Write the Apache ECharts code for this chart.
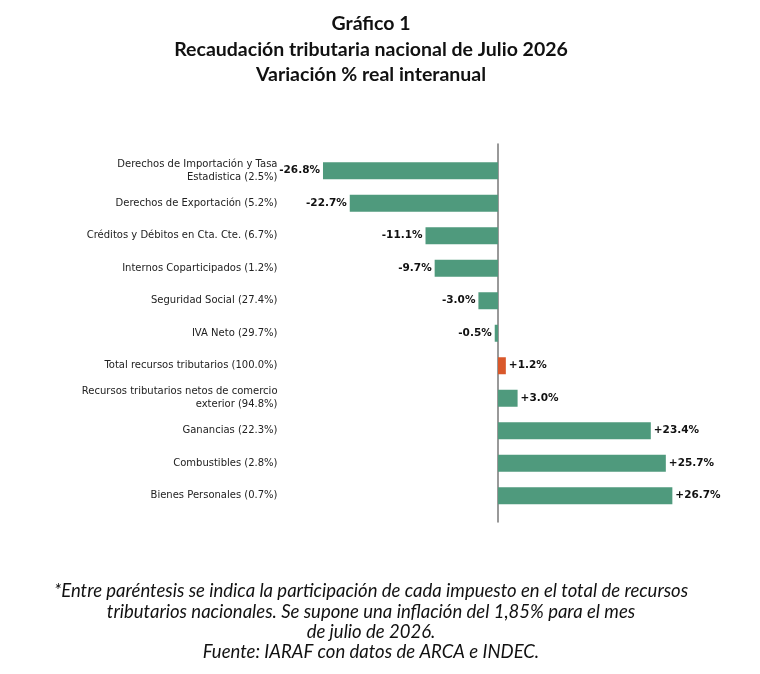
<!DOCTYPE html>
<html>
<head>
<meta charset="utf-8">
<script src="https://cdn.jsdelivr.net/npm/echarts@6/dist/echarts.min.js"></script>
<style>
  html, body { margin: 0; padding: 0; background: #fff; }
  #chart { width: 760px; height: 674px; }
</style>
</head>
<body>
<div id="chart"></div>
<script>
// categories top to bottom, with their share of total tax revenue
const categories = [
    'Derechos de Importación y Tasa\nEstadistica (2.5%)',
    'Derechos de Exportación (5.2%)',
    'Créditos y Débitos en Cta. Cte. (6.7%)',
    'Internos Coparticipados (1.2%)',
    'Seguridad Social (27.4%)',
    'IVA Neto (29.7%)',
    'Total recursos tributarios (100.0%)',
    'Recursos tributarios netos de comercio\nexterior (94.8%)',
    'Ganancias (22.3%)',
    'Combustibles (2.8%)',
    'Bienes Personales (0.7%)'
];
// real year-on-year variation, %
const variation = [-26.8, -22.7, -11.1, -9.7, -3.0, -0.5, 1.2, 3.0, 23.4, 25.7, 26.7];
const highlight = 'Total recursos tributarios (100.0%)';

const titleLines = [
    'Gráfico 1',
    'Recaudación tributaria nacional de Julio 2026',
    'Variación % real interanual'
];
const noteLines = [
    '*Entre paréntesis se indica la participación de cada impuesto en el total de recursos',
    'tributarios nacionales. Se supone una inflación del 1,85% para el mes',
    'de julio de 2026.',
    'Fuente: IARAF con datos de ARCA e INDEC.'
];

const green = '#4f9a7d';
const orange = '#d9582b';

const barData = variation.map((v, i) => ({
    value: v,
    itemStyle: { color: categories[i] === highlight ? orange : green },
    label: { position: v < 0 ? 'left' : 'right' }
}));

const titles = [];
titleLines.forEach((t, i) => {
    titles.push({
        text: t, left: 366, top: 9 + i * 25.5, textAlign: 'center',
        textStyle: { fontFamily: 'Lato', fontWeight: 'bold', fontSize: 19.5, color: '#111' }
    });
});
noteLines.forEach((t, i) => {
    titles.push({
        text: t, left: 366, top: 577 + i * 20.3, textAlign: 'center',
        textStyle: { fontFamily: 'Lato', fontStyle: 'italic', fontWeight: 'normal', fontSize: 18.5, color: '#111' }
    });
});

const chartOptions = {
    animation: false,
    backgroundColor: '#fff',
    title: titles,
    grid: [
        { left: 282.5, right: 46.5, top: 154.5, height: 357.5 },
        { left: 282.5, right: 46.5, top: 144, bottom: 152 } // zero line spans a bit more
    ],
    xAxis: [
        { type: 'value', gridIndex: 0, min: -33, max: 33, show: false },
        { type: 'value', gridIndex: 1, min: -33, max: 33, show: false }
    ],
    yAxis: [
        {
            type: 'category', gridIndex: 0, inverse: true, data: categories,
            axisLine: { show: false }, axisTick: { show: false },
            axisLabel: {
                margin: 5, fontFamily: 'DejaVu Sans', fontSize: 10, color: '#222',
                lineHeight: 13, align: 'right'
            }
        },
        {
            type: 'value', gridIndex: 1, min: 0, max: 1,
            axisLine: { show: true, onZero: true, lineStyle: { color: '#777', width: 1.5 } },
            axisTick: { show: false }, axisLabel: { show: false }, splitLine: { show: false }
        }
    ],
    series: [
        {
            type: 'bar',
            xAxisIndex: 0, yAxisIndex: 0,
            barWidth: 17,
            data: barData,
            label: {
                show: true, distance: 3,
                fontFamily: 'DejaVu Sans', fontWeight: 'bold', fontSize: 10.5, color: '#111',
                formatter: p => (p.value > 0 ? '+' : '') + p.value.toFixed(1) + '%'
            }
        }
    ]
};

const chart = echarts.init(document.getElementById('chart'));
chart.setOption(chartOptions);
</script>
</body>
</html>
